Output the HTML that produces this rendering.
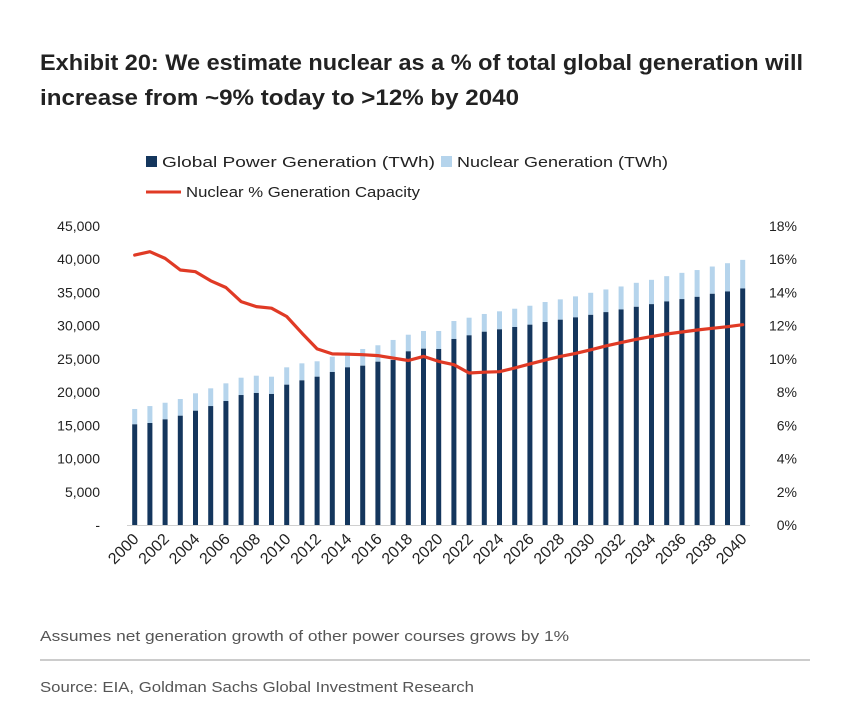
<!DOCTYPE html>
<html><head><meta charset="utf-8"><style>
html,body{margin:0;padding:0;background:#fff;}
svg{display:block;font-family:"Liberation Sans",Arial,sans-serif;}
</style></head><body>
<svg id="chart" width="860" height="722" viewBox="0 0 860 722" xmlns="http://www.w3.org/2000/svg">
<text x="40" y="70" font-size="22" font-weight="bold" fill="#222" textLength="763" lengthAdjust="spacingAndGlyphs">Exhibit 20: We estimate nuclear as a % of total global generation will</text>
<text x="40" y="105" font-size="22" font-weight="bold" fill="#222" textLength="479" lengthAdjust="spacingAndGlyphs">increase from ~9% today to &gt;12% by 2040</text>
<g>
<rect x="146" y="156" width="11" height="11" fill="#14365d"/>
<text x="162" y="167" font-size="14.5" fill="#222" textLength="273" lengthAdjust="spacingAndGlyphs">Global Power Generation (TWh)</text>
<rect x="441" y="156" width="11" height="11" fill="#b5d4ec"/>
<text x="457" y="167" font-size="14.5" fill="#222" textLength="211" lengthAdjust="spacingAndGlyphs">Nuclear Generation (TWh)</text>
<line x1="146" y1="192" x2="181" y2="192" stroke="#e03a25" stroke-width="3"/>
<text x="186" y="197" font-size="14.5" fill="#222" textLength="234" lengthAdjust="spacingAndGlyphs">Nuclear % Generation Capacity</text>
</g>
<g id="plot"></g>
<text x="40" y="641" font-size="15" fill="#555" textLength="529" lengthAdjust="spacingAndGlyphs">Assumes net generation growth of other power courses grows by 1%</text>
<line x1="40" y1="660" x2="810" y2="660" stroke="#999" stroke-width="1"/>
<text x="40" y="692" font-size="15" fill="#555" textLength="434" lengthAdjust="spacingAndGlyphs">Source: EIA, Goldman Sachs Global Investment Research</text>
</svg>
<script>
const years = [];
for (let y = 2000; y <= 2040; y++) years.push(y);
const globalGen = [15150,15350,15900,16450,17200,17900,18660,19560,19870,19720,21120,21770,22320,23030,23730,23980,24580,24830,26140,26540,26490,28000,28550,29090,29450,29800,30150,30550,30900,31250,31630,32040,32440,32840,33240,33650,34000,34340,34800,35150,35600];
const totalWithNuclear = [17460,17900,18400,18960,19820,20570,21320,22170,22470,22320,23730,24330,24640,25330,25990,26490,27050,27850,28640,29200,29200,30700,31200,31760,32160,32550,33000,33560,33960,34410,34950,35450,35900,36450,36900,37450,37950,38370,38900,39400,39900];
const nuclearPct = [16.25,16.45,16.05,15.35,15.25,14.7,14.3,13.45,13.15,13.05,12.55,11.55,10.6,10.3,10.28,10.25,10.2,10.05,9.9,10.15,9.85,9.65,9.15,9.2,9.23,9.45,9.7,9.93,10.15,10.33,10.55,10.78,10.98,11.18,11.34,11.5,11.62,11.74,11.84,11.94,12.06];
const leftTicks = [0,5000,10000,15000,20000,25000,30000,35000,40000,45000];
const leftTickLabels = ["-","5,000","10,000","15,000","20,000","25,000","30,000","35,000","40,000","45,000"];
const rightTicks = [0,2,4,6,8,10,12,14,16,18];
const rightTickLabels = ["0%","2%","4%","6%","8%","10%","12%","14%","16%","18%"];

const NS = "http://www.w3.org/2000/svg";
const plot = document.getElementById("plot");
const top0 = 226, bot0 = 525;
const yL = v => bot0 - v / 45000 * (bot0 - top0);
const yR = v => bot0 - v / 18 * (bot0 - top0);
const x0 = 134.7, step = 15.2;
const xB = i => x0 + i * step;
function mk(tag, attrs) { const e = document.createElementNS(NS, tag); for (const k in attrs) e.setAttribute(k, attrs[k]); plot.appendChild(e); return e; }

leftTicks.forEach((t, i) => {
  const e = mk("text", {x: 100, y: yL(t) + 5, "font-size": 14, fill: "#222", "text-anchor": "end"});
  e.textContent = leftTickLabels[i];
  
  
});
rightTicks.forEach((t, i) => {
  const e = mk("text", {x: 797, y: yR(t) + 5, "font-size": 14, fill: "#222", "text-anchor": "end"});
  e.textContent = rightTickLabels[i];
  
  
});
const base = mk("line", {x1: 127, y1: bot0 + 0.5, x2: 750, y2: bot0 + 0.5, stroke: "#d0d0d0", "stroke-width": 1});



years.forEach((yr, i) => {
  const x = xB(i) - 2.5;
  const n = mk("rect", {x: x, y: yL(totalWithNuclear[i]), width: 5, height: yL(globalGen[i]) - yL(totalWithNuclear[i]), fill: "#b5d4ec"});
  
  
  const g = mk("rect", {x: x, y: yL(globalGen[i]), width: 5, height: bot0 - yL(globalGen[i]), fill: "#14365d"});
  
  
  if (i % 2 === 0) {
    const tx = xB(i) + 5, ty = 540;
    const l = mk("text", {x: tx, y: ty, "font-size": 16, fill: "#222", "text-anchor": "end", transform: `rotate(-45 ${tx} ${ty})`});
    l.textContent = yr;
    
    
  }
});
const pts = nuclearPct.map((v, i) => xB(i).toFixed(1) + "," + yR(v).toFixed(1)).join(" ");
const line = mk("polyline", {points: pts, fill: "none", stroke: "#e03a25", "stroke-width": 3.2, "stroke-linejoin": "round", "stroke-linecap": "round"});


</script>
</body></html>
